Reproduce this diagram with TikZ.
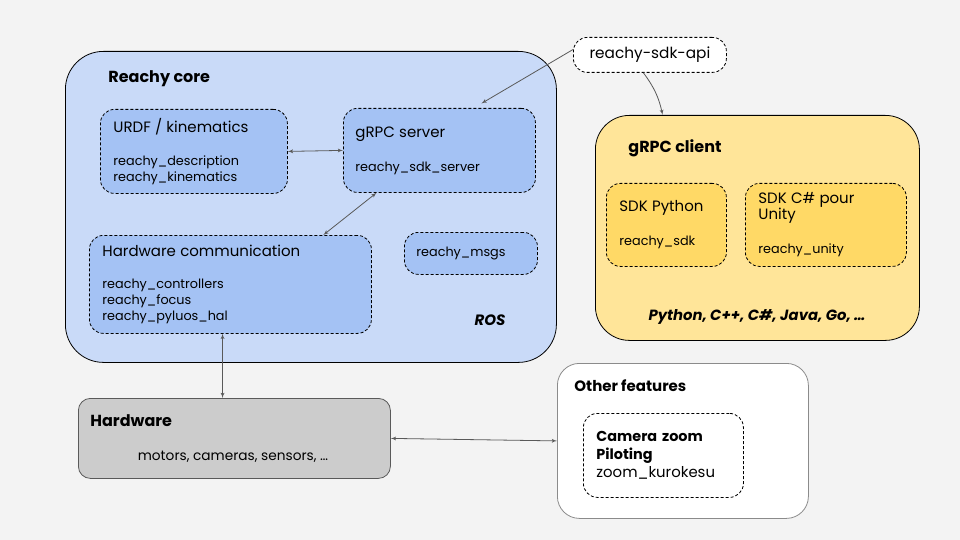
\documentclass[tikz,border=0pt]{standalone}
\usepackage{xcolor}
\usepackage{fontspec}
\setmainfont{Poppins}
\usetikzlibrary{shapes,arrows}
\definecolor{bgGray}{HTML}{F3F3F3}
\definecolor{coreBlue}{HTML}{C9DAF8}
\definecolor{pkgBlue}{HTML}{A4C2F4}
\definecolor{clientYellow}{HTML}{FFE599}
\definecolor{pkgYellow}{HTML}{FFD966}
\definecolor{hwGray}{HTML}{CCCCCC}
\definecolor{lineGray}{HTML}{595959}
\newcommand{\titleFont}{\fontsize{16}{19}\selectfont\bfseries}
\newcommand{\pkgFont}{\fontsize{12.8}{16}\selectfont}
\newcommand{\headFont}{\fontsize{15}{17}\selectfont}
\tikzstyle{container} = [draw, rounded corners=38pt, anchor=north west, inner sep=0pt]
\tikzstyle{pkgBlock} = [draw, dashed, dash pattern=on 3pt off 2pt, rounded corners=14pt, anchor=north west,
    align=left, inner xsep=13pt, inner ysep=0pt, font=\pkgFont]
\tikzstyle{title} = [anchor=base west, font=\titleFont, inner sep=0pt]
\tikzstyle{line} = [draw, color=lineGray, -latex']
\tikzstyle{biline} = [draw, color=lineGray, latex'-latex']

\begin{document}
\begin{tikzpicture}[x=1pt, y=-1pt, line width=0.8pt]
    \fill [bgGray] (0,0) rectangle (960,540);
    % Place nodes
    \node [container, fill=coreBlue, minimum width=491pt, minimum height=311pt] (core) at (65,51) {};
    \node [title] (coreTitle) at (108,83) {Reachy core};
    \node [pkgBlock, fill=pkgBlue, text width=161pt, minimum height=84pt] (urdf) at (100,109)
        {{\headFont URDF / kinematics}\\[17pt]reachy\_description\\reachy\_kinematics};
    \node [pkgBlock, fill=pkgBlue, text width=168pt, minimum height=84pt, inner xsep=12pt] (grpcSrv) at (343,108)
        {{\headFont gRPC server}\\[18pt]reachy\_sdk\_server};
    \node [pkgBlock, fill=pkgBlue, text width=256pt, minimum height=98pt] (hwComm) at (89,235)
        {{\headFont Hardware communication}\\[16pt]reachy\_controllers\\reachy\_focus\\reachy\_pyluos\_hal};
    \node [pkgBlock, fill=pkgBlue, text width=109pt, minimum height=42pt, inner xsep=12pt] (msgs) at (404,232)
        {reachy\_msgs};
    \node [font=\fontsize{15}{17}\selectfont\bfseries\itshape] (ros) at (490,320) {ROS};

    \node [pkgBlock, fill=white, minimum width=153pt, minimum height=35pt, align=center, font=\fontsize{15.3}{17}\selectfont] (sdkApi) at (573,37)
        {reachy-sdk-api};

    \node [container, rounded corners=34pt, fill=clientYellow, minimum width=324pt, minimum height=225pt] (grpcClient) at (595,115) {};
    \node [title] (clientTitle) at (628,153) {gRPC client};
    \node [pkgBlock, fill=pkgYellow, text width=94pt, minimum height=83pt] (sdkPy) at (606,183)
        {{\headFont SDK Python}\\[18pt]reachy\_sdk};
    \node [pkgBlock, fill=pkgYellow, text width=135pt, minimum height=83pt] (sdkCs) at (745,183)
        {{\headFont SDK C\# pour\\Unity}\\[18pt]reachy\_unity};
    \node [font=\fontsize{14.8}{17}\selectfont\bfseries\itshape] (langs) at (757,317) {Python, C++, C\#, Java, Go, \dots};

    \node [container, rounded corners=12pt, draw=lineGray, fill=hwGray, minimum width=312pt, minimum height=80pt] (hardware) at (78,398) {};
    \node [title] (hwTitle) at (90,426) {Hardware};
    \node [font=\fontsize{13.7}{16}\selectfont] (hwList) at (233,457) {motors, cameras, sensors, \dots};

    \node [container, rounded corners=22pt, draw=lineGray!70, fill=white, minimum width=251pt, minimum height=155pt] (otherFeat) at (557,363) {};
    \node [title, font=\fontsize{15}{17}\selectfont\bfseries] (otherTitle) at (574,391) {Other features};
    \node [pkgBlock, fill=white, text width=134pt, minimum height=84pt, font=\fontsize{14.9}{18}\selectfont] (camZoom) at (583,413)
        {{\bfseries\fontsize{14.4}{18}\selectfont Camera zoom}\\{\bfseries\fontsize{14.4}{18}\selectfont Piloting}\\zoom\_kurokesu};

    % Draw edges
    \path [biline] (urdf.east) -- (grpcSrv.west);
    \path [biline] (grpcSrv.214) -- (hwComm.28);
    \path [biline] (hwComm.261) -- (hwComm.261 |- hardware.north);
    \path [biline] (hardware.east) -- (otherFeat.west);
    \path [line, shorten >=9pt] (sdkApi.176) -- (grpcSrv.51);
    \path [line] (sdkApi.250) to [bend left=12] (grpcClient.130);
\end{tikzpicture}
\end{document}
